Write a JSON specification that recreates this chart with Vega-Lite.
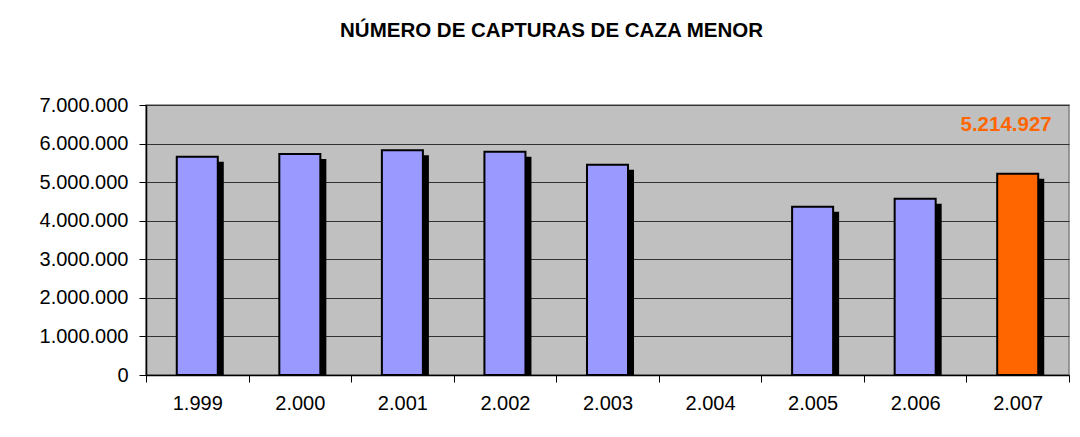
{
  "$schema": "https://vega.github.io/schema/vega-lite/v6.json",
  "autosize": {"type": "none"},
  "width": 923,
  "height": 270,
  "padding": {"left": 146, "top": 105, "right": 11, "bottom": 62},
  "background": "white",
  "config": {
    "locale": {"number": {"decimal": ",", "thousands": ".", "grouping": [3], "currency": ["", " €"]}},
    "font": "Liberation Sans",
    "view": {"fill": "#C0C0C0", "stroke": "#808080", "strokeWidth": 1.5}
  },
  "title": {
    "text": "NÚMERO DE CAPTURAS DE CAZA MENOR",
    "font": "Liberation Sans",
    "fontSize": 20.5,
    "fontWeight": "bold",
    "color": "black",
    "anchor": "middle",
    "dx": -56,
    "baseline": "alphabetic",
    "offset": 38
  },
  "data": {
    "values": [
      {"anio": "1.999", "capturas": 5660000, "destacado": "no"},
      {"anio": "2.000", "capturas": 5730000, "destacado": "no"},
      {"anio": "2.001", "capturas": 5830000, "destacado": "no"},
      {"anio": "2.002", "capturas": 5790000, "destacado": "no"},
      {"anio": "2.003", "capturas": 5450000, "destacado": "no"},
      {"anio": "2.004", "capturas": null, "destacado": "no"},
      {"anio": "2.005", "capturas": 4360000, "destacado": "no"},
      {"anio": "2.006", "capturas": 4570000, "destacado": "no"},
      {"anio": "2.007", "capturas": 5214927, "destacado": "si"}
    ]
  },
  "encoding": {
    "x": {
      "field": "anio",
      "type": "nominal",
      "sort": null,
      "scale": {
        "domain": ["1.999", "2.000", "2.001", "2.002", "2.003", "2.004", "2.005", "2.006", "2.007"],
        "paddingInner": 0,
        "paddingOuter": 0
      },
      "axis": {
        "title": null,
        "labelAngle": 0,
        "labelFont": "Liberation Sans",
        "labelFontSize": 20,
        "labelColor": "black",
        "labelPadding": 11,
        "tickBand": "extent",
        "tickSize": 7,
        "tickColor": "black",
        "domainColor": "black",
        "domainWidth": 1.5,
        "grid": false
      }
    },
    "y": {
      "field": "capturas",
      "type": "quantitative",
      "scale": {"domain": [0, 7000000], "nice": false, "zero": true},
      "axis": {
        "title": null,
        "values": [0, 1000000, 2000000, 3000000, 4000000, 5000000, 6000000, 7000000],
        "format": ",d",
        "labelOverlap": false,
        "labelFont": "Liberation Sans",
        "labelFontSize": 20,
        "labelColor": "black",
        "labelPadding": 11,
        "tickSize": 7,
        "tickColor": "black",
        "domainColor": "black",
        "domainWidth": 1.5,
        "grid": true,
        "gridColor": "#333333",
        "gridWidth": 1
      }
    }
  },
  "layer": [
    {
      "mark": {"type": "bar", "fill": "black", "width": {"band": 0.4}, "xOffset": 6, "x2Offset": 6, "yOffset": 5, "y2Offset": 0, "clip": true}
    },
    {
      "mark": {"type": "bar", "width": {"band": 0.4}, "stroke": "black", "strokeWidth": 2},
      "encoding": {
        "fill": {
          "field": "destacado",
          "type": "nominal",
          "scale": {"domain": ["no", "si"], "range": ["#9999FF", "#FF6600"]},
          "legend": null
        }
      }
    },
    {
      "transform": [{"filter": "datum.destacado == 'si'"}],
      "mark": {"type": "text", "align": "right", "baseline": "alphabetic", "dx": 34, "font": "Liberation Sans", "fontSize": 20.5, "fontWeight": "bold", "color": "#FF6600"},
      "encoding": {
        "y": {"datum": 6330000, "type": "quantitative"},
        "text": {"field": "capturas", "type": "quantitative", "format": ",d"}
      }
    }
  ]
}
